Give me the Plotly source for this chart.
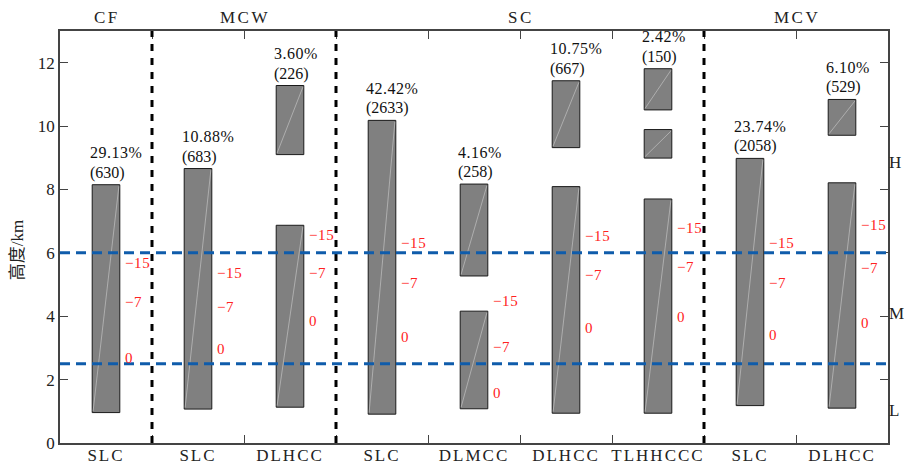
import plotly.graph_objects as go

# Cloud regimes and the layer structures observed in each
groups = ["CF", "MCW", "SC", "MCV"]
group_sizes = [1, 2, 4, 2]
types = ["SLC", "SLC", "DLHCC", "SLC", "DLMCC", "DLHCC", "TLHHCCC", "SLC", "DLHCC"]
percent = [29.13, 10.88, 3.60, 42.42, 4.16, 10.75, 2.42, 23.74, 6.10]
counts = [630, 683, 226, 2633, 258, 667, 150, 2058, 529]

# Cloud layers (base km, top km) for each structure
layers = [
    [(0.96, 8.15)],
    [(1.07, 8.66)],
    [(1.13, 6.87), (9.10, 11.28)],
    [(0.91, 10.18)],
    [(1.08, 4.16), (5.27, 8.17)],
    [(0.94, 8.09), (9.32, 11.43)],
    [(0.94, 7.70), (8.99, 9.89), (10.51, 11.81)],
    [(1.18, 8.98)],
    [(1.10, 8.21), (9.71, 10.84)],
]

# Heights (km) of the -15, -7 and 0 degree levels
iso_names = ["\u221215", "\u22127", "0"]
h_m15 = [5.68, 5.35, 6.56, 6.30, 4.48, 6.53, 6.79, 6.32, 6.88]
h_m7 = [4.46, 4.28, 5.37, 5.04, 3.04, 5.30, 5.56, 5.04, 5.53]
h_0 = [2.68, 2.96, 3.86, 3.36, 1.59, 3.64, 3.97, 3.41, 3.78]

# Low / middle / high cloud boundaries
level_bounds = [2.5, 6.0]
level_names = ["L", "M", "H"]
level_label_y = [1.05, 4.1, 8.85]

y_ticks = [0, 2, 4, 6, 8, 10, 12]

SERIF = "'Liberation Serif', 'Times New Roman', serif"
BAR_W = 0.3
AX = "#444444"
RED = "#ff2222"
BLUE = "#0f5cab"


def spaced(s, px):
    """Wrap a label so it is drawn with extra tracking."""
    return f'<span style="letter-spacing:{px}px">{s}</span>'


fig = go.Figure()

# stacked cloud-layer bars
bx, by, bb = [], [], []
for i, segs in enumerate(layers):
    for lo, hi in segs:
        bx.append(i)
        by.append(hi - lo)
        bb.append(lo)
fig.add_trace(go.Bar(
    x=bx, y=by, base=bb, width=BAR_W,
    marker=dict(color="#808080", line=dict(color="#1a1a1a", width=1)),
    hoverinfo="skip", showlegend=False,
))

# faint diagonal streak inside each layer box
dx, dy = [], []
for i, segs in enumerate(layers):
    for lo, hi in segs:
        dx += [i - BAR_W / 2 + 0.01, i + BAR_W / 2 - 0.01, None]
        dy += [lo + 0.05, hi - 0.05, None]
fig.add_trace(go.Scatter(
    x=dx, y=dy, mode="lines",
    line=dict(color="rgba(205,205,205,0.75)", width=0.8),
    hoverinfo="skip", showlegend=False,
))

# helper trace that carries the secondary axes
fig.add_trace(go.Scatter(x=[0], y=[0], xaxis="x2", yaxis="y2", mode="markers",
                         marker=dict(opacity=0), hoverinfo="skip", showlegend=False))

annotations = []
n = len(types)
for i in range(n):
    top = max(hi for _, hi in layers[i])
    annotations.append(dict(
        x=i - BAR_W / 2, y=top, xref="x", yref="y", xanchor="left", yanchor="middle",
        xshift=-4, yshift=32, text=spaced(f"{percent[i]:.2f}%", 0.5), showarrow=False,
        font=dict(family=SERIF, size=16, color="#111111"),
    ))
    annotations.append(dict(
        x=i - BAR_W / 2, y=top, xref="x", yref="y", xanchor="left", yanchor="middle",
        xshift=-4, yshift=12, text=f"({counts[i]})", showarrow=False,
        font=dict(family=SERIF, size=16, color="#111111"),
    ))
    for name, hv in zip(iso_names, (h_m15[i], h_m7[i], h_0[i])):
        annotations.append(dict(
            x=i + BAR_W / 2, y=hv, xref="x", yref="y", xanchor="left", yanchor="middle",
            xshift=3, text=spaced(name, 0.6), showarrow=False,
            font=dict(family=SERIF, size=15, color=RED),
        ))

# group titles above the frame and group separators
shapes = []
start = 0
for gi, (g, sz) in enumerate(zip(groups, group_sizes)):
    center = start + (sz - 1) / 2
    annotations.append(dict(
        x=center, y=1, xref="x", yref="paper", xanchor="center", yanchor="middle",
        yshift=14, xshift=1, text=spaced(g, 2.5), showarrow=False,
        font=dict(family=SERIF, size=17, color="#222222"),
    ))
    end = start + sz
    if gi < len(groups) - 1:
        shapes.append(dict(
            type="line", xref="x", yref="paper", x0=end - 0.5, x1=end - 0.5, y0=0, y1=1,
            line=dict(color="black", width=3, dash="7px,7px"), layer="above",
        ))
    start = end

for yb in level_bounds:
    shapes.append(dict(
        type="line", xref="paper", yref="y", x0=0, x1=1, y0=yb, y1=yb,
        line=dict(color=BLUE, width=3, dash="10px,6px"), layer="above",
    ))

# y-axis title
annotations.append(dict(
    x=-43 / 828, y=0.468, xref="paper", yref="paper", xanchor="center", yanchor="middle",
    text="高度/km", textangle=-90, showarrow=False,
    font=dict(family="'Liberation Serif', 'Noto Sans CJK SC'", size=17, color="#222222"),
))

x_range = [-0.5, n - 0.5]
fig.update_layout(
    width=912, height=468,
    margin=dict(l=60, r=24, t=31, b=25, autoexpand=False),
    plot_bgcolor="white", paper_bgcolor="white",
    barmode="overlay", showlegend=False,
    font=dict(family=SERIF),
    xaxis=dict(
        range=x_range, tickvals=[k + 0.5 for k in range(n - 1)],
        showticklabels=False, ticks="inside", ticklen=8, tickcolor=AX, tickwidth=1.2,
        showline=True, linecolor=AX, linewidth=1.5, mirror="ticks",
        showgrid=False, zeroline=False, automargin=False,
    ),
    xaxis2=dict(
        range=x_range, overlaying="x", anchor="y2", side="bottom",
        tickvals=list(range(n)), ticktext=[spaced(t, 2) for t in types], ticks="",
        showline=False, showgrid=False, zeroline=False, automargin=False,
        tickfont=dict(family=SERIF, size=17, color="#222222"),
    ),
    yaxis=dict(
        range=[0, 13], tickvals=y_ticks, ticks="inside", ticklen=8, tickcolor=AX,
        tickwidth=1.2, showline=True, linecolor=AX, linewidth=1.5, mirror="ticks",
        showgrid=False, zeroline=False, automargin=False,
        tickfont=dict(family=SERIF, size=17, color="#222222"),
    ),
    yaxis2=dict(
        range=[0, 13], overlaying="y", anchor="x2", side="right",
        tickvals=level_label_y, ticktext=level_names, ticks="",
        showline=False, showgrid=False, zeroline=False, automargin=False,
        tickfont=dict(family=SERIF, size=17, color="#222222"),
    ),
    annotations=annotations,
    shapes=shapes,
)

fig.write_html("out.html")
